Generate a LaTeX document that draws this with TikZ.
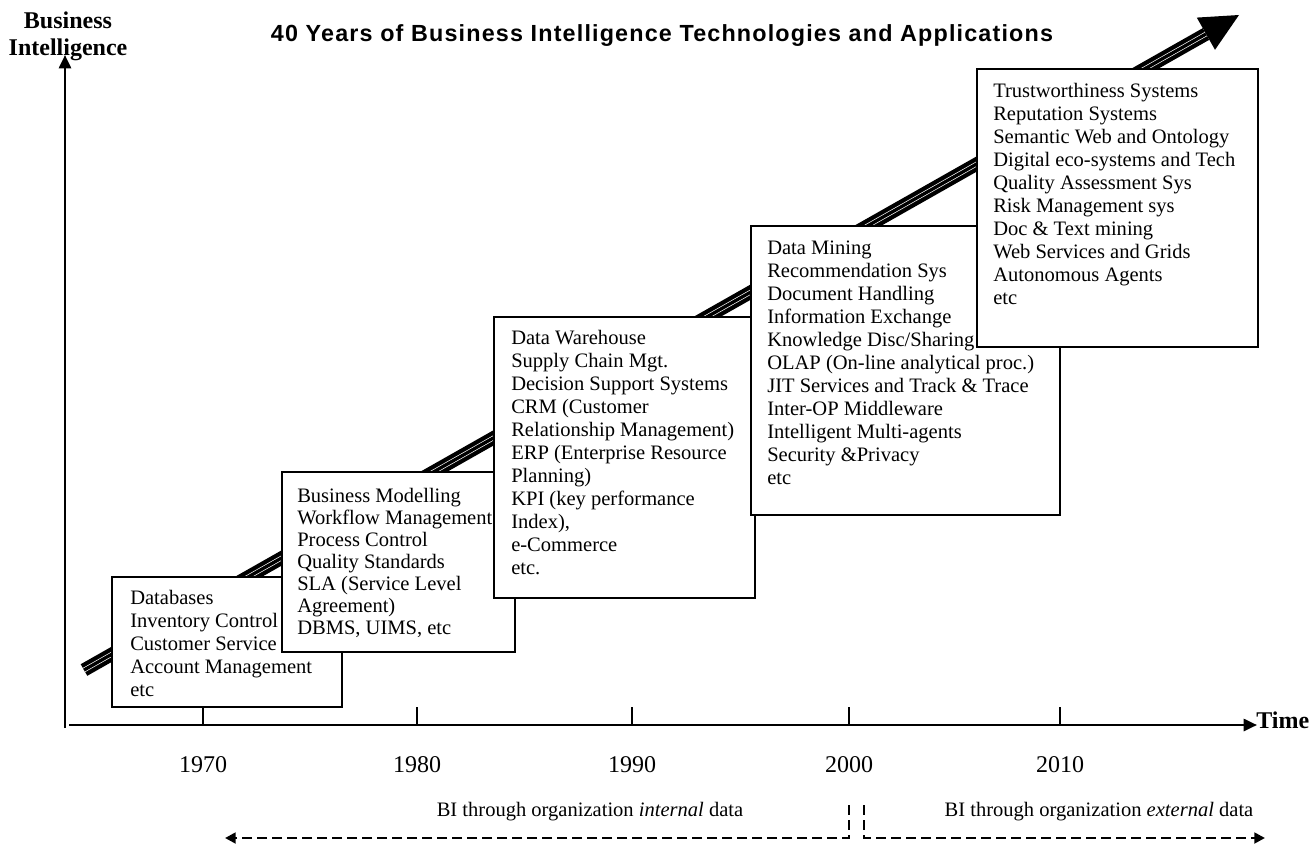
\documentclass[tikz,border=0pt]{standalone}
\usepackage{fontspec}
\setmainfont{Liberation Serif}
\newfontfamily\titlefont[LetterSpace=5]{Liberation Sans}
\usetikzlibrary{arrows.meta,calc}
\begin{document}
\begin{tikzpicture}[x=0.75pt,y=-0.75pt,
  box/.style={draw, line width=1pt, fill=white, anchor=north west, inner sep=0pt, outer sep=0pt},
  boxtxt/.style={anchor=north west, inner sep=0pt, align=left, font=\fontsize{15.4pt}{17.25pt}\selectfont},
  yearlbl/.style={font=\fontsize{18pt}{20pt}\selectfont, inner sep=0pt},
  axlbl/.style={font=\fontsize{18pt}{20pt}\selectfont\bfseries, inner sep=0pt, align=center},
  axisline/.style={line width=2pt, -{Triangle[length=10pt,width=9pt]}},
  tickline/.style={line width=0.8pt},
  dasharrow/.style={line width=2pt, dash pattern=on 7.5pt off 3.75pt, -{Triangle[length=8pt,width=8pt]}},
  datalbl/.style={font=\fontsize{15.4pt}{17.25pt}\selectfont, inner sep=0pt}
  ]
\useasboundingbox (0,0) rectangle (1314,849);
\fill[white] (0,0) rectangle (1314,849);

% title
\node (title) at (662,36) {\titlefont\bfseries\fontsize{17.5pt}{19pt}\selectfont 40 Years of Business Intelligence Technologies and Applications};

% big trend arrow
\coordinate (bs) at (84,670);
\coordinate (be) at (1206,34);
\coordinate (tip) at (1239,15);
\coordinate (hc1) at (1215,49.8);
\coordinate (hc2) at (1196.8,17.6);
\draw[line width=10pt] (bs) -- (be);
\draw[white, line width=3.5pt] (bs) -- (be);
\draw[line width=2.5pt] (bs) -- (be);
\fill (tip) -- (hc1) -- (hc2) -- cycle;

% axes
\coordinate (yo) at (65,728);
\coordinate (ytop) at (65,55);
\coordinate (xo) at (69,725);
\coordinate (xtip) at (1257,725);
\draw[axisline] (yo) -- (ytop);
\draw[axisline] (xo) -- (xtip);
\node[axlbl] (bi) at (68,36) {Business\\Intelligence};
\node[axlbl, anchor=west] (time) at (1256,720) {Time};

% ticks and years
\foreach \x/\yr in {203/1970,417/1980,632/1990,849/2000,1060/2010}{
  \coordinate (t\yr) at (\x,707);
  \coordinate (b\yr) at (\x,725);
  \draw[tickline] (t\yr) -- (b\yr);
  \node[yearlbl] (y\yr) at (\x,765) {\yr};
}

% boxes
\node[box, minimum width=172.5pt, minimum height=97.5pt] (b1) at (112,577) {};
\node[boxtxt] (t1) at (130,588) {\strut Databases\\Inventory Control\\Customer Service\\Account Management\\etc};

\node[box, minimum width=174.75pt, minimum height=135pt] (b2) at (282,472) {};
\node[boxtxt, font=\fontsize{15.4pt}{16.5pt}\selectfont] (t2) at (297,487) {\strut Business Modelling\\Workflow Management\\Process Control\\Quality Standards\\SLA (Service Level\\Agreement)\\DBMS, UIMS, etc};

\node[box, minimum width=195.75pt, minimum height=210.75pt] (b3) at (494,317) {};
\node[boxtxt] (t3) at (511,328) {\strut Data Warehouse\\Supply Chain Mgt.\\Decision Support Systems\\CRM (Customer\\Relationship Management)\\ERP (Enterprise Resource\\Planning)\\KPI (key performance\\Index),\\e-Commerce\\etc.};

\node[box, minimum width=231.75pt, minimum height=216.75pt] (b4) at (751,226) {};
\node[boxtxt] (t4) at (767,238) {\strut Data Mining\\Recommendation Sys\\Document Handling\\Information Exchange\\Knowledge Disc/Sharing\\OLAP (On-line analytical proc.)\\JIT Services and Track \& Trace\\Inter-OP Middleware\\Intelligent Multi-agents\\Security \&Privacy\\etc};

\node[box, minimum width=210.75pt, minimum height=208.5pt] (b5) at (977,69) {};
\node[boxtxt] (t5) at (993,81) {\strut Trustworthiness Systems\\Reputation Systems\\Semantic Web and Ontology\\Digital eco-systems and Tech\\Quality Assessment Sys\\Risk Management sys\\Doc \& Text mining\\Web Services and Grids\\Autonomous Agents\\etc};

% internal / external data
\node[datalbl] (intl) at (590,812) {BI through organization \textit{internal} data};
\node[datalbl] (extl) at (1099,812) {BI through organization \textit{external} data};
\coordinate (ia) at (849,805);
\coordinate (ib) at (225,838);
\coordinate (ea) at (864,805);
\coordinate (eb) at (1265,838);
\draw[dasharrow] (ia) |- (ib);
\draw[dasharrow] (ea) |- (eb);
\end{tikzpicture}
\end{document}
